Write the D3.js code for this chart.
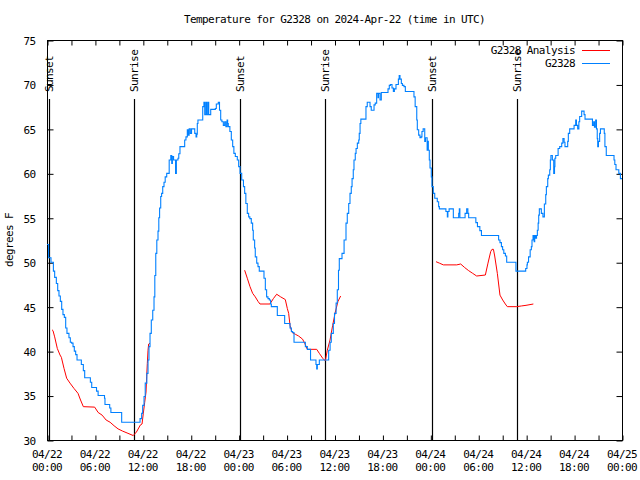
<!DOCTYPE html>
<html><head><meta charset="utf-8">
<script src="https://cdn.jsdelivr.net/npm/d3@7"></script>
<style>
html,body{margin:0;padding:0;background:#fff;}
svg text{font-family:"DejaVu Sans Mono","Liberation Mono",monospace;font-size:11px;letter-spacing:-0.6px;fill:#000;}
</style></head>
<body>
<svg id="c" width="640" height="480"></svg>
<script>
// ---- data (hours since 2024-04-22 00:00 UTC, degrees F) ----
const titleText = "Temperature for G2328 on 2024-Apr-22 (time in UTC)";
const yLabel = "degrees F";
const seriesNames = ["G2328 Analysis", "G2328"];
const yTicks = [30, 35, 40, 45, 50, 55, 60, 65, 70, 75];
const xTickHours = [0, 6, 12, 18, 24, 30, 36, 42, 48, 54, 60, 66, 72];
const sunLabels = ["Sunset", "Sunrise", "Sunset", "Sunrise", "Sunset", "Sunrise"];
const sunHours = [0.25, 10.9, 24.17, 34.8, 48.2, 58.85];

const observed = [[0.0,52.0],[0.2,50.5],[0.5,50.0],[0.8,49.0],[0.96,48.3],[1.17,47.6],[1.34,46.8],[1.5,46.2],[1.67,45.6],[1.84,44.7],[2.0,44.1],[2.17,43.8],[2.34,42.6],[2.5,42.0],[2.75,41.5],[2.92,41.0],[3.09,40.9],[3.26,40.5],[3.42,40.0],[3.59,39.6],[3.76,39.0],[4.3,38.5],[4.55,37.8],[4.72,37.0],[5.43,36.5],[5.6,35.9],[6.2,35.5],[6.4,35.0],[7.2,34.7],[7.26,34.0],[7.85,33.6],[8.0,33.1],[9.35,32.0],[11.65,32.4],[11.85,33.0],[11.98,33.9],[12.15,34.9],[12.3,36.4],[12.5,37.5],[12.65,39.0],[12.77,40.5],[12.9,42.0],[13.06,43.5],[13.24,44.6],[13.4,46.1],[13.5,48.5],[13.62,51.0],[13.75,52.5],[13.9,53.5],[14.0,55.0],[14.1,56.1],[14.24,57.4],[14.35,57.75],[14.49,58.5],[14.65,59.0],[14.8,59.6],[14.99,60.0],[15.3,61.5],[15.5,62.0],[15.62,61.1],[15.7,61.9],[15.85,61.5],[16.1,60.0],[16.2,61.5],[16.4,61.7],[16.5,62.2],[16.65,63.0],[17.24,63.75],[17.4,64.1],[17.57,64.9],[17.7,64.3],[17.8,65.0],[17.95,64.5],[18.1,65.0],[18.5,64.5],[18.66,64.1],[18.75,64.4],[18.82,65.6],[18.9,66.0],[19.5,67.5],[19.65,68.0],[19.75,66.6],[19.9,68.0],[20.0,66.6],[20.15,68.0],[20.25,66.6],[20.5,67.2],[21.08,67.3],[21.2,67.8],[21.45,68.0],[21.6,67.1],[21.75,66.0],[21.9,65.8],[22.08,65.4],[22.25,65.8],[22.4,65.25],[22.55,66.0],[22.62,65.6],[22.7,65.25],[22.9,64.7],[23.08,63.75],[23.25,63.0],[23.4,62.25],[23.58,61.9],[23.83,61.5],[24.0,60.75],[24.17,60.0],[24.38,59.25],[24.6,58.5],[24.75,57.75],[24.9,56.6],[25.08,55.5],[25.25,55.1],[25.4,54.9],[25.58,54.4],[25.75,53.6],[25.83,52.5],[26.0,51.6],[26.08,50.6],[26.26,49.9],[26.42,49.5],[26.58,49.0],[27.17,48.2],[27.34,46.9],[27.5,46.1],[27.67,45.9],[27.84,45.75],[28.0,45.3],[28.09,45.0],[28.84,44.0],[29.76,43.1],[30.43,42.6],[30.6,42.2],[30.76,42.1],[30.93,41.0],[32.35,40.5],[32.6,40.2],[33.0,39.0],[33.68,38.5],[33.77,38.0],[33.85,38.5],[34.1,39.0],[35.27,40.1],[35.45,41.0],[35.6,42.0],[35.85,43.1],[36.0,44.25],[36.2,45.4],[36.35,46.9],[36.5,49.1],[36.6,50.4],[36.94,51.0],[37.2,52.5],[37.44,54.4],[37.6,55.5],[37.78,56.6],[37.94,57.75],[38.1,58.5],[38.2,59.4],[38.35,60.4],[38.44,61.5],[38.6,62.25],[38.7,62.8],[38.86,63.4],[39.03,63.75],[39.1,64.5],[39.2,65.6],[39.3,66.1],[39.94,67.5],[40.1,68.0],[40.45,67.5],[40.6,67.1],[40.95,67.7],[41.1,67.9],[41.28,69.0],[41.45,68.5],[41.5,69.0],[41.7,68.25],[41.86,69.1],[42.7,69.5],[42.86,69.9],[43.0,70.0],[43.2,69.6],[43.37,69.2],[43.5,69.5],[43.7,70.0],[44.0,70.6],[44.1,71.0],[44.2,70.6],[44.37,70.1],[44.5,69.9],[44.7,69.75],[44.87,69.2],[45.95,68.6],[46.1,67.5],[46.3,66.0],[46.37,64.9],[46.54,64.3],[46.7,64.0],[46.85,64.1],[46.95,64.7],[47.1,65.0],[47.3,63.6],[47.4,64.0],[47.6,62.6],[47.7,63.6],[47.75,62.6],[47.87,61.5],[47.96,60.6],[48.12,59.6],[48.2,58.5],[48.37,57.75],[48.55,57.2],[48.87,56.8],[49.04,56.25],[49.13,56.0],[49.95,55.7],[50.13,55.1],[50.2,55.7],[50.35,56.0],[50.88,55.0],[51.55,55.5],[51.63,56.0],[51.7,55.0],[52.35,55.5],[52.55,56.0],[52.7,55.5],[52.8,55.0],[53.7,54.45],[53.9,54.0],[54.2,53.55],[54.4,53.0],[56.55,52.5],[56.72,52.2],[56.9,51.75],[57.05,51.4],[57.2,51.0],[57.4,50.7],[57.56,50.0],[58.72,49.0],[59.94,49.3],[60.1,49.7],[60.15,50.0],[60.3,50.6],[60.5,51.4],[60.65,51.75],[60.73,52.5],[60.86,53.0],[61.0,52.3],[61.07,53.0],[61.2,52.7],[61.3,53.0],[61.4,53.6],[61.5,54.4],[61.57,55.3],[61.65,56.0],[61.9,55.5],[62.1,55.1],[62.28,56.55],[62.45,57.6],[62.53,58.5],[62.7,59.4],[62.78,59.8],[62.95,60.4],[63.03,61.5],[63.1,62.0],[63.28,61.5],[63.45,60.0],[63.55,60.75],[63.6,61.7],[63.7,62.0],[64.0,62.8],[64.2,63.0],[64.45,63.4],[64.6,63.9],[64.75,63.5],[64.86,63.0],[65.2,63.6],[65.28,64.5],[65.45,65.0],[66.0,65.4],[66.2,66.0],[66.3,65.4],[66.45,65.0],[66.6,65.8],[66.7,66.4],[66.95,67.0],[67.25,66.6],[67.37,66.1],[68.3,65.4],[68.45,65.8],[68.55,65.2],[68.7,66.0],[68.8,65.0],[68.9,63.9],[68.96,63.0],[69.05,63.6],[69.2,64.5],[69.3,65.0],[69.78,64.5],[69.86,63.0],[70.03,62.0],[71.0,61.5],[71.1,61.0],[71.25,60.4],[71.6,60.0],[71.8,59.4],[72.0,59.4]];

const analysisDay1 = [[0.63,42.4],[0.75,42.3],[0.96,41.6],[1.29,40.3],[1.63,39.56],[1.8,39.3],[2.13,38.06],[2.46,36.95],[2.88,36.4],[3.38,35.8],[3.88,35.25],[4.2,34.5],[4.55,33.75],[5.97,33.7],[6.4,33.1],[6.9,32.8],[7.4,32.25],[7.9,32.0],[8.4,31.6],[8.9,31.25],[9.47,31.0],[10.14,30.75],[10.8,30.5],[11.2,30.9],[11.7,31.7],[11.9,31.8],[12.06,33.0],[12.23,34.2],[12.4,35.4],[12.48,37.1],[12.56,38.6],[12.65,40.1],[12.73,40.8],[12.9,40.9]];
const analysisDay2 = [[24.75,49.1],[25.08,48.2],[25.42,47.25],[25.75,46.5],[26.08,46.1],[26.42,45.6],[26.67,45.3],[27.92,45.3],[28.34,45.9],[28.76,46.4],[29.26,46.1],[29.84,45.8],[30.09,44.8],[30.26,44.25],[30.43,42.9],[30.68,42.1],[31.09,41.9],[31.5,41.7],[32.0,41.35],[32.26,40.9],[32.6,40.2],[33.77,40.2],[34.1,39.75],[34.52,39.2],[34.85,38.9],[35.1,40.1],[35.44,41.25],[35.77,42.9],[36.1,44.4],[36.44,45.6],[36.77,46.2]];
const analysisDay3 = [[48.71,50.06],[49.13,49.9],[49.63,49.7],[51.3,49.7],[51.8,49.8],[52.3,49.4],[52.8,49.05],[53.3,48.75],[53.8,48.45],[54.89,48.56],[55.22,49.9],[55.56,51.2],[55.72,51.45],[55.9,51.45],[56.06,50.7],[56.39,48.75],[56.72,46.3],[57.06,45.75],[57.39,45.3],[57.64,45.0],[58.82,45.0],[59.4,45.08],[59.98,45.15],[60.9,45.3]];

// ---- chart ----
const t0 = Date.UTC(2024, 3, 22);
const toDate = h => new Date(t0 + h * 3600e3);
const svg = d3.select("#c");
const L = 47, R = 622, T = 40, B = 440;
const x = d3.scaleUtc().domain([toDate(0), toDate(72)]).range([L, R]);
const y = d3.scaleLinear().domain([30, 75]).range([B, T]);
const red = "#ff0000", blue = "#0080ff";

// title (centred over the plot area)
svg.append("text").attr("x", (L + R) / 2).attr("y", 23).attr("text-anchor", "middle").text(titleText);
// y label
svg.append("text").attr("transform", "translate(13,240) rotate(-90)").attr("text-anchor", "middle").text(yLabel);

// border
svg.append("rect").attr("x", L + 0.5).attr("y", T + 0.5).attr("width", R - L).attr("height", B - T)
  .attr("fill", "none").attr("stroke", "#000").attr("stroke-width", 1);

// minor x ticks
const minorHours = d3.range(0, 72.01, 3);
const fmtD = d3.utcFormat("%m/%d"), fmtT = d3.utcFormat("%H:%M");
function xAxis(g, orient) {
  const ax = (orient === "bottom" ? d3.axisBottom(x) : d3.axisTop(x))
    .tickValues(minorHours.map(toDate)).tickSizeInner(-5).tickSizeOuter(0).tickFormat("");
  g.call(ax);
  g.select(".domain").remove();
  g.selectAll(".tick line").attr("stroke", "#000");
}
svg.append("g").attr("transform", `translate(0.5,${B + 0.5})`).call(g => xAxis(g, "bottom"));
svg.append("g").attr("transform", `translate(0.5,${T + 0.5})`).call(g => xAxis(g, "top"));

// major labels
const xl = svg.append("g");
xTickHours.forEach(h => {
  const d = toDate(h);
  const t = xl.append("text").attr("text-anchor", "middle").attr("x", x(d));
  t.append("tspan").attr("x", x(d)).attr("y", 458).text(fmtD(d));
  t.append("tspan").attr("x", x(d)).attr("y", 471).text(fmtT(d));
});

// y axes
const yl = d3.axisLeft(y).tickValues(yTicks).tickSizeInner(-6).tickSizeOuter(0).tickPadding(12).tickFormat(d3.format("d"));
const gy = svg.append("g").attr("transform", `translate(${L + 0.5},0.5)`).call(yl);
gy.select(".domain").remove();
gy.selectAll(".tick line").attr("stroke", "#000");
gy.selectAll(".tick text").attr("font-size", null).attr("font-family", null).attr("dy", "0.35em");
const yr = d3.axisRight(y).tickValues(yTicks).tickSizeInner(-6).tickSizeOuter(0).tickFormat("");
const gyr = svg.append("g").attr("transform", `translate(${R + 0.5},0.5)`).call(yr);
gyr.select(".domain").remove();
gyr.selectAll(".tick line").attr("stroke", "#000");

// sun lines
sunHours.forEach((h, i) => {
  const sx = Math.round(x(toDate(h))) + 0.5;
  svg.append("line").attr("x1", sx).attr("x2", sx).attr("y1", B).attr("y2", 99)
    .attr("stroke", "#000").attr("stroke-width", 1.2);
  svg.append("text").attr("transform", `translate(${sx},92) rotate(-90)`).attr("dy", "0.35em").text(sunLabels[i]);
});

// series
const stepLine = d3.line().x(d => x(toDate(d[0]))).y(d => y(d[1])).curve(d3.curveStepAfter);
const straight = d3.line().x(d => x(toDate(d[0]))).y(d => y(d[1]));
[analysisDay1, analysisDay2, analysisDay3].forEach(seg => {
  svg.append("path").attr("d", straight(seg)).attr("fill", "none").attr("stroke", red).attr("stroke-width", 1);
});
svg.append("path").attr("d", stepLine(observed)).attr("fill", "none").attr("stroke", blue).attr("stroke-width", 1.1);

// legend
const leg = svg.append("g");
[[seriesNames[0], red, 50], [seriesNames[1], blue, 63]].forEach(([name, c, ly]) => {
  leg.append("text").attr("x", 575).attr("y", ly).attr("dy", "0.35em").attr("text-anchor", "end").text(name);
  leg.append("line").attr("x1", 582).attr("x2", 610).attr("y1", ly + 0.5).attr("y2", ly + 0.5).attr("stroke", c).attr("stroke-width", 1);
});
</script>
</body></html>
